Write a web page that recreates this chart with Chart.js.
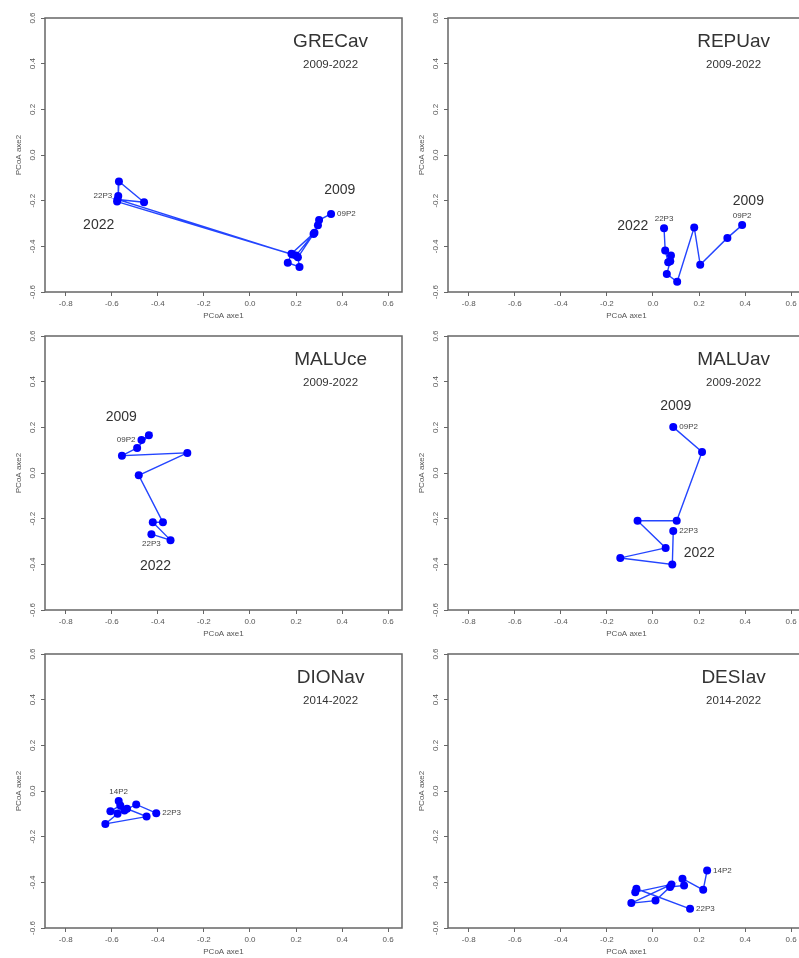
<!DOCTYPE html>
<html>
<head>
<meta charset="utf-8">
<script src="https://cdn.jsdelivr.net/npm/chart.js@4.4.1/dist/chart.umd.min.js"></script>
<style>
html, body { margin: 0; padding: 0; background: #fff; }
body { position: relative; width: 799px; height: 958px; overflow: hidden; }
canvas { position: absolute; }
</style>
</head>
<body>
<script>
// axis ticks shared by all six panels
const xTicks = [-0.8, -0.6, -0.4, -0.2, 0.0, 0.2, 0.4, 0.6];
const yTicks = [-0.6, -0.4, -0.2, 0.0, 0.2, 0.4, 0.6];

const panelNames = ['GRECav', 'REPUav', 'MALUce', 'MALUav', 'DIONav', 'DESIav'];
const panelPeriods = ['2009-2022', '2009-2022', '2009-2022', '2009-2022', '2014-2022', '2014-2022'];
const firstSamples = ['09P2', '09P2', '09P2', '09P2', '14P2', '14P2'];
const lastSamples = ['22P3', '22P3', '22P3', '22P3', '22P3', '22P3'];

// PCoA trajectories (axe1, axe2), first sample -> last sample
const grecX = [0.352, 0.300, 0.295, 0.276, 0.208, 0.215, 0.164, 0.180, 0.280, 0.200, -0.577, 0.185, -0.575, -0.460, -0.569, -0.572];
const grecY = [-0.258, -0.285, -0.308, -0.346, -0.448, -0.490, -0.472, -0.432, -0.340, -0.440, -0.204, -0.436, -0.195, -0.207, -0.116, -0.180];

const repuX = [0.387, 0.323, 0.205, 0.179, 0.105, 0.060, 0.075, 0.078, 0.066, 0.053, 0.048];
const repuY = [-0.307, -0.363, -0.481, -0.317, -0.555, -0.521, -0.465, -0.440, -0.470, -0.418, -0.321];

const maluceX = [-0.471, -0.439, -0.490, -0.556, -0.272, -0.483, -0.378, -0.422, -0.345, -0.428];
const maluceY = [0.144, 0.165, 0.110, 0.076, 0.088, -0.010, -0.216, -0.216, -0.294, -0.268];

const maluavX = [0.088, 0.213, 0.103, -0.067, 0.055, -0.142, 0.084, 0.088];
const maluavY = [0.201, 0.092, -0.209, -0.209, -0.328, -0.372, -0.401, -0.254];

const dionX = [-0.570, -0.563, -0.606, -0.534, -0.449, -0.628, -0.575, -0.545, -0.494, -0.407];
const dionY = [-0.044, -0.063, -0.089, -0.078, -0.112, -0.144, -0.100, -0.085, -0.059, -0.097];

const desiX = [0.235, 0.218, 0.128, 0.135, 0.074, 0.011, -0.094, 0.080, -0.077, -0.072, 0.161];
const desiY = [-0.348, -0.433, -0.384, -0.414, -0.420, -0.480, -0.491, -0.409, -0.443, -0.428, -0.516];

const seriesX = [grecX, repuX, maluceX, maluavX, dionX, desiX];
const seriesY = [grecY, repuY, maluceY, maluavY, dionY, desiY];

// year annotations in data coordinates (null = none)
const startYearAt = [[0.39, -0.153], [0.414, -0.203], [-0.559, 0.245], [0.099, 0.293], null, null];
const endYearAt = [[-0.657, -0.309], [-0.088, -0.31], [-0.41, -0.409], [0.201, -0.35], null, null];
const firstLabelSide = ['right', 'above', 'left', 'right', 'above', 'right'];
const lastLabelSide = ['left', 'above', 'below', 'right', 'right', 'right'];

const FONT = "'Liberation Sans', Arial, sans-serif";
const AXIS_GREY = '#555';
const LINE_BLUE = '#2445ff';
const POINT_BLUE = '#0000ff';

const PANEL_W = 410, PANEL_H = 330, PITCH_X = 400, PITCH_Y = 318;

function pointLabel(ctx, text, px, py, side)
{
    ctx.font = '8px ' + FONT;
    ctx.fillStyle = '#444';
    if (side === 'right') { ctx.textAlign = 'left'; ctx.textBaseline = 'middle'; ctx.fillText(text, px + 6, py); }
    else if (side === 'left') { ctx.textAlign = 'right'; ctx.textBaseline = 'middle'; ctx.fillText(text, px - 6, py); }
    else if (side === 'above') { ctx.textAlign = 'center'; ctx.textBaseline = 'bottom'; ctx.fillText(text, px, py - 5); }
    else { ctx.textAlign = 'center'; ctx.textBaseline = 'top'; ctx.fillText(text, px, py + 6); }
}

const decorations = {
    id: 'rDecor',
    afterDraw(chart)
    {
        const i = chart.options.plugins.rDecor.panel;
        const { ctx, chartArea: a, scales: { x, y } } = chart;
        ctx.save();

        // box
        ctx.strokeStyle = '#666';
        ctx.lineWidth = 1.5;
        ctx.strokeRect(a.left, a.top, a.right - a.left, a.bottom - a.top);

        // rotated y tick labels
        ctx.fillStyle = AXIS_GREY;
        ctx.font = '8px ' + FONT;
        for (const v of yTicks) {
            ctx.save();
            ctx.translate(a.left - 8, y.getPixelForValue(v));
            ctx.rotate(-Math.PI / 2);
            ctx.textAlign = 'center';
            ctx.textBaseline = 'bottom';
            ctx.fillText(v.toFixed(1), 0, 0);
            ctx.restore();
        }

        // axis titles
        ctx.textAlign = 'center';
        ctx.textBaseline = 'middle';
        ctx.fillText('PCoA axe1', (a.left + a.right) / 2, a.bottom + 24);
        ctx.save();
        ctx.translate(a.left - 26, (a.top + a.bottom) / 2);
        ctx.rotate(-Math.PI / 2);
        ctx.fillText('PCoA axe2', 0, 0);
        ctx.restore();

        // panel name and period
        ctx.fillStyle = '#333';
        ctx.font = '19px ' + FONT;
        ctx.fillText(panelNames[i], x.getPixelForValue(0.35), y.getPixelForValue(0.495));
        ctx.font = '11.5px ' + FONT;
        ctx.fillText(panelPeriods[i], x.getPixelForValue(0.35), y.getPixelForValue(0.395));

        // start / end years
        ctx.font = '14px ' + FONT;
        if (startYearAt[i]) {
            ctx.fillText('2009', x.getPixelForValue(startYearAt[i][0]), y.getPixelForValue(startYearAt[i][1]));
        }
        if (endYearAt[i]) {
            ctx.fillText('2022', x.getPixelForValue(endYearAt[i][0]), y.getPixelForValue(endYearAt[i][1]));
        }

        // first and last sample labels
        const xs = seriesX[i], ys = seriesY[i];
        const n = xs.length - 1;
        pointLabel(ctx, firstSamples[i], x.getPixelForValue(xs[0]), y.getPixelForValue(ys[0]), firstLabelSide[i]);
        pointLabel(ctx, lastSamples[i], x.getPixelForValue(xs[n]), y.getPixelForValue(ys[n]), lastLabelSide[i]);

        ctx.restore();
    }
};

Chart.register(decorations);

function BuildPanel(i)
{
    const col = i % 2, row = Math.floor(i / 2);
    const areaLeft = col === 0 ? 45 : 48;
    const canvas = document.createElement('canvas');
    canvas.width = PANEL_W;
    canvas.height = PANEL_H;
    canvas.style.left = (col * PITCH_X) + 'px';
    canvas.style.top = (row * PITCH_Y) + 'px';
    document.body.appendChild(canvas);

    const points = seriesX[i].map((v, k) => ({ x: v, y: seriesY[i][k] }));

    new Chart(canvas,
    {
        type: 'scatter',
        data:
        {
            datasets: [{
                data: points,
                showLine: true,
                borderColor: LINE_BLUE,
                borderWidth: 1.4,
                pointRadius: 4,
                pointBorderWidth: 0,
                pointBackgroundColor: POINT_BLUE,
                tension: 0
            }]
        },
        options:
        {
            responsive: false,
            animation: false,
            devicePixelRatio: 1,
            layout: { padding: { top: 18, left: 0, right: PANEL_W - areaLeft - 357, bottom: 0 } },
            plugins:
            {
                legend: { display: false },
                tooltip: { enabled: false },
                rDecor: { panel: i }
            },
            scales:
            {
                x:
                {
                    type: 'linear',
                    min: -0.89,
                    max: 0.66,
                    afterBuildTicks: s => { s.ticks = xTicks.map(v => ({ value: v })); },
                    afterFit: s => { s.height = PANEL_H - 292; },
                    border: { display: false },
                    grid: { drawOnChartArea: false, drawTicks: true, tickLength: 4, tickColor: '#666', tickWidth: 1 },
                    ticks:
                    {
                        color: AXIS_GREY,
                        font: { size: 8, family: FONT },
                        padding: 3,
                        maxRotation: 0,
                        autoSkip: false,
                        callback: v => Number(v).toFixed(1)
                    }
                },
                y:
                {
                    type: 'linear',
                    min: -0.6,
                    max: 0.6,
                    afterBuildTicks: s => { s.ticks = yTicks.map(v => ({ value: v })); },
                    afterFit: s => { s.width = areaLeft; },
                    border: { display: false },
                    grid: { drawOnChartArea: false, drawTicks: true, tickLength: 4, tickColor: '#666', tickWidth: 1 },
                    ticks: { display: false }
                }
            }
        }
    });
}

for (let i = 0; i < panelNames.length; i++)
{
    BuildPanel(i);
}
</script>
</body>
</html>
